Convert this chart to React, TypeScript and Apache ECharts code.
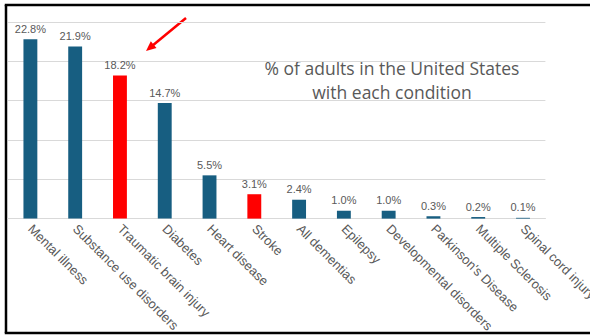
import React, { useEffect, useRef } from "react";
import * as echarts from "echarts";

const categories = [
  "Mental illness",
  "Substance use disorders",
  "Traumatic brain injury",
  "Diabetes",
  "Heart disease",
  "Stroke",
  "All dementias",
  "Epilepsy",
  "Developmental disorders",
  "Parkinson's Disease",
  "Multiple Sclerosis",
  "Spinal cord injury",
];
const values = [22.8, 21.9, 18.2, 14.7, 5.5, 3.1, 2.4, 1.0, 1.0, 0.3, 0.2, 0.1];
const highlighted = [2, 5];
const titleLines = ["% of adults in the United States", "with each condition"];

export default function App() {
  const ref = useRef<HTMLDivElement>(null);
  useEffect(() => {
    document.body.style.margin = "0";
    const chart = echarts.init(ref.current!, null, { renderer: "svg" });
    const font = "'Liberation Sans', Arial, sans-serif";
    const border = { stroke: "#000000", lineWidth: 2.5 };
    chart.setOption({
      animation: false,
      backgroundColor: "#ffffff",
      grid: { left: 8, right: 49, top: 22, bottom: 116 },
      xAxis: {
        type: "category",
        data: categories,
        axisLine: { lineStyle: { color: "#d9d9d9", width: 1 } },
        axisTick: { show: false },
        axisLabel: {
          rotate: -45,
          interval: 0,
          color: "#595959",
          fontSize: 13,
          fontFamily: font,
          margin: 8,
        },
      },
      yAxis: {
        type: "value",
        min: 0,
        max: 25,
        interval: 5,
        axisLabel: { show: false },
        axisLine: { show: false },
        axisTick: { show: false },
        splitLine: { lineStyle: { color: "#d9d9d9", width: 1 } },
      },
      series: [
        {
          type: "bar",
          barWidth: "31%",
          data: values.map((v, i) => ({
            value: v,
            itemStyle: { color: highlighted.includes(i) ? "#ff0000" : "#175e81" },
          })),
          label: {
            show: true,
            position: "top",
            distance: 5,
            color: "#595959",
            fontSize: 11,
            fontFamily: font,
            formatter: (p: any) => p.value.toFixed(1) + "%",
          },
        },
      ],
      graphic: [
        { type: "line", shape: { x1: 4.75, y1: 5, x2: 600, y2: 5 }, style: border, silent: true },
        { type: "line", shape: { x1: 6, y1: 5, x2: 6, y2: 333 }, style: border, silent: true },
        { type: "line", shape: { x1: 4.75, y1: 333, x2: 600, y2: 333 }, style: border, silent: true },
        {
          type: "text",
          x: 392,
          y: 80,
          style: {
            text: titleLines.join("\n"),
            fill: "#595959",
            font: `17.5px 'Open Sans', sans-serif`,
            align: "center",
            verticalAlign: "middle",
            lineHeight: 24,
          },
        },
        {
          type: "line",
          shape: { x1: 186, y1: 18, x2: 152, y2: 46 },
          style: { stroke: "#ff0000", lineWidth: 2.5 },
        },
        {
          type: "polygon",
          shape: {
            points: [
              [146, 51],
              [156.5, 48],
              [150.8, 41.2],
            ],
          },
          style: { fill: "#ff0000" },
        },
      ],
    });
    return () => chart.dispose();
  }, []);
  return (
    <div style={{ width: 590, height: 335, overflow: "hidden" }}>
      <div ref={ref} style={{ width: 600, height: 335 }} />
    </div>
  );
}
